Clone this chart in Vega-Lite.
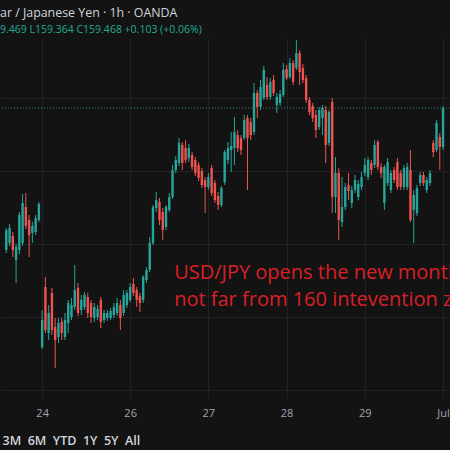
{
  "$schema": "https://vega.github.io/schema/vega-lite/v6.json",
  "width": 450,
  "height": 360,
  "autosize": {"type": "none"},
  "padding": {"top": 38, "left": 0, "right": 0, "bottom": 52},
  "background": "#131313",
  "config": {"view": {"stroke": null}, "font": "Open Sans"},
  "title": {
    "text": "ar / Japanese Yen · 1h · OANDA",
    "subtitle": "9.469 L159.364 C159.468 +0.103 (+0.06%)",
    "anchor": "start",
    "frame": "group",
    "color": "#d1d4dc",
    "subtitleColor": "#22ab94",
    "fontSize": 12.4,
    "subtitleFontSize": 10.5,
    "fontWeight": 500,
    "font": "Open Sans",
    "subtitleFont": "Open Sans",
    "offset": 3,
    "subtitlePadding": 5
  },
  "datasets": {
    "candles": [
      {"bar": -11, "open": 158.758, "close": 158.858, "high": 158.868, "low": 158.743},
      {"bar": -10, "open": 158.793, "close": 158.868, "high": 158.888, "low": 158.778},
      {"bar": -9, "open": 158.828, "close": 158.758, "high": 158.848, "low": 158.723},
      {"bar": -8, "open": 158.708, "close": 158.773, "high": 158.788, "low": 158.593},
      {"bar": -7, "open": 158.758, "close": 158.933, "high": 158.948, "low": 158.738},
      {"bar": -6, "open": 158.793, "close": 158.993, "high": 159.038, "low": 158.778},
      {"bar": -5, "open": 158.973, "close": 158.878, "high": 159.043, "low": 158.863},
      {"bar": -4, "open": 158.908, "close": 158.833, "high": 158.933, "low": 158.723},
      {"bar": -3, "open": 158.843, "close": 158.878, "high": 158.898, "low": 158.793},
      {"bar": -2, "open": 158.848, "close": 158.918, "high": 158.933, "low": 158.833},
      {"bar": -1, "open": 158.908, "close": 158.988, "high": 158.998, "low": 158.898},
      {"bar": 0, "open": 158.273, "close": 158.408, "high": 158.458, "low": 158.263},
      {"bar": 1, "open": 158.573, "close": 158.358, "high": 158.623, "low": 158.343},
      {"bar": 2, "open": 158.343, "close": 158.443, "high": 158.483, "low": 158.308},
      {"bar": 3, "open": 158.543, "close": 158.358, "high": 158.568, "low": 158.333},
      {"bar": 4, "open": 158.373, "close": 158.308, "high": 158.418, "low": 158.168},
      {"bar": 5, "open": 158.323, "close": 158.393, "high": 158.418, "low": 158.293},
      {"bar": 6, "open": 158.398, "close": 158.343, "high": 158.418, "low": 158.308},
      {"bar": 7, "open": 158.323, "close": 158.408, "high": 158.443, "low": 158.308},
      {"bar": 8, "open": 158.393, "close": 158.493, "high": 158.508, "low": 158.343},
      {"bar": 9, "open": 158.423, "close": 158.483, "high": 158.518, "low": 158.408},
      {"bar": 10, "open": 158.473, "close": 158.558, "high": 158.683, "low": 158.458},
      {"bar": 11, "open": 158.568, "close": 158.443, "high": 158.593, "low": 158.428},
      {"bar": 12, "open": 158.458, "close": 158.508, "high": 158.533, "low": 158.433},
      {"bar": 13, "open": 158.473, "close": 158.533, "high": 158.548, "low": 158.458},
      {"bar": 14, "open": 158.523, "close": 158.443, "high": 158.543, "low": 158.418},
      {"bar": 15, "open": 158.493, "close": 158.423, "high": 158.508, "low": 158.393},
      {"bar": 16, "open": 158.418, "close": 158.473, "high": 158.493, "low": 158.398},
      {"bar": 17, "open": 158.423, "close": 158.463, "high": 158.483, "low": 158.408},
      {"bar": 18, "open": 158.508, "close": 158.398, "high": 158.523, "low": 158.368},
      {"bar": 19, "open": 158.408, "close": 158.443, "high": 158.458, "low": 158.393},
      {"bar": 20, "open": 158.418, "close": 158.443, "high": 158.458, "low": 158.403},
      {"bar": 21, "open": 158.418, "close": 158.453, "high": 158.468, "low": 158.408},
      {"bar": 22, "open": 158.433, "close": 158.473, "high": 158.493, "low": 158.418},
      {"bar": 23, "open": 158.443, "close": 158.493, "high": 158.518, "low": 158.428},
      {"bar": 24, "open": 158.483, "close": 158.418, "high": 158.508, "low": 158.358},
      {"bar": 25, "open": 158.443, "close": 158.533, "high": 158.558, "low": 158.428},
      {"bar": 26, "open": 158.483, "close": 158.543, "high": 158.558, "low": 158.468},
      {"bar": 27, "open": 158.508, "close": 158.573, "high": 158.593, "low": 158.498},
      {"bar": 28, "open": 158.588, "close": 158.543, "high": 158.618, "low": 158.528},
      {"bar": 29, "open": 158.558, "close": 158.508, "high": 158.573, "low": 158.473},
      {"bar": 30, "open": 158.528, "close": 158.493, "high": 158.543, "low": 158.448},
      {"bar": 31, "open": 158.508, "close": 158.623, "high": 158.633, "low": 158.493},
      {"bar": 32, "open": 158.608, "close": 158.658, "high": 158.673, "low": 158.593},
      {"bar": 33, "open": 158.658, "close": 158.793, "high": 158.823, "low": 158.648},
      {"bar": 34, "open": 158.793, "close": 158.973, "high": 158.983, "low": 158.783},
      {"bar": 35, "open": 158.968, "close": 159.008, "high": 159.048, "low": 158.948},
      {"bar": 36, "open": 158.998, "close": 158.908, "high": 159.018, "low": 158.883},
      {"bar": 37, "open": 158.948, "close": 158.858, "high": 158.968, "low": 158.808},
      {"bar": 38, "open": 158.873, "close": 158.973, "high": 158.983, "low": 158.858},
      {"bar": 39, "open": 158.958, "close": 159.023, "high": 159.043, "low": 158.948},
      {"bar": 40, "open": 159.023, "close": 159.158, "high": 159.183, "low": 159.013},
      {"bar": 41, "open": 159.158, "close": 159.208, "high": 159.228, "low": 159.143},
      {"bar": 42, "open": 159.193, "close": 159.293, "high": 159.318, "low": 159.178},
      {"bar": 43, "open": 159.283, "close": 159.193, "high": 159.298, "low": 159.158},
      {"bar": 44, "open": 159.268, "close": 159.208, "high": 159.308, "low": 159.193},
      {"bar": 45, "open": 159.218, "close": 159.268, "high": 159.288, "low": 159.198},
      {"bar": 46, "open": 159.233, "close": 159.173, "high": 159.248, "low": 159.158},
      {"bar": 47, "open": 159.208, "close": 159.143, "high": 159.223, "low": 159.128},
      {"bar": 48, "open": 159.183, "close": 159.118, "high": 159.198, "low": 159.103},
      {"bar": 49, "open": 159.153, "close": 159.083, "high": 159.168, "low": 159.068},
      {"bar": 50, "open": 159.108, "close": 159.073, "high": 159.123, "low": 158.943},
      {"bar": 51, "open": 159.073, "close": 159.123, "high": 159.143, "low": 159.058},
      {"bar": 52, "open": 159.168, "close": 159.043, "high": 159.183, "low": 159.028},
      {"bar": 53, "open": 159.093, "close": 159.008, "high": 159.108, "low": 158.993},
      {"bar": 54, "open": 159.028, "close": 158.983, "high": 159.048, "low": 158.958},
      {"bar": 55, "open": 158.983, "close": 159.068, "high": 159.078, "low": 158.973},
      {"bar": 56, "open": 159.098, "close": 159.248, "high": 159.258, "low": 159.083},
      {"bar": 57, "open": 159.208, "close": 159.268, "high": 159.298, "low": 159.188},
      {"bar": 58, "open": 159.258, "close": 159.278, "high": 159.348, "low": 159.148},
      {"bar": 59, "open": 159.268, "close": 159.348, "high": 159.423, "low": 159.183},
      {"bar": 60, "open": 159.333, "close": 159.268, "high": 159.358, "low": 159.248},
      {"bar": 61, "open": 159.318, "close": 159.258, "high": 159.333, "low": 159.233},
      {"bar": 62, "open": 159.318, "close": 159.408, "high": 159.433, "low": 159.308},
      {"bar": 63, "open": 159.418, "close": 159.318, "high": 159.433, "low": 159.058},
      {"bar": 64, "open": 159.398, "close": 159.333, "high": 159.418, "low": 159.308},
      {"bar": 65, "open": 159.348, "close": 159.543, "high": 159.593, "low": 159.333},
      {"bar": 66, "open": 159.543, "close": 159.473, "high": 159.558, "low": 159.418},
      {"bar": 67, "open": 159.473, "close": 159.573, "high": 159.608, "low": 159.458},
      {"bar": 68, "open": 159.518, "close": 159.658, "high": 159.678, "low": 159.508},
      {"bar": 69, "open": 159.583, "close": 159.523, "high": 159.623, "low": 159.508},
      {"bar": 70, "open": 159.523, "close": 159.598, "high": 159.618, "low": 159.508},
      {"bar": 71, "open": 159.608, "close": 159.543, "high": 159.633, "low": 159.528},
      {"bar": 72, "open": 159.483, "close": 159.523, "high": 159.543, "low": 159.443},
      {"bar": 73, "open": 159.493, "close": 159.538, "high": 159.558, "low": 159.478},
      {"bar": 74, "open": 159.533, "close": 159.658, "high": 159.693, "low": 159.523},
      {"bar": 75, "open": 159.663, "close": 159.618, "high": 159.683, "low": 159.608},
      {"bar": 76, "open": 159.623, "close": 159.693, "high": 159.718, "low": 159.613},
      {"bar": 77, "open": 159.693, "close": 159.598, "high": 159.708, "low": 159.583},
      {"bar": 78, "open": 159.668, "close": 159.743, "high": 159.808, "low": 159.658},
      {"bar": 79, "open": 159.743, "close": 159.648, "high": 159.758, "low": 159.583},
      {"bar": 80, "open": 159.668, "close": 159.608, "high": 159.688, "low": 159.593},
      {"bar": 81, "open": 159.618, "close": 159.508, "high": 159.633, "low": 159.493},
      {"bar": 82, "open": 159.508, "close": 159.448, "high": 159.523, "low": 159.433},
      {"bar": 83, "open": 159.478, "close": 159.418, "high": 159.493, "low": 159.398},
      {"bar": 84, "open": 159.433, "close": 159.358, "high": 159.458, "low": 159.318},
      {"bar": 85, "open": 159.373, "close": 159.458, "high": 159.473, "low": 159.358},
      {"bar": 86, "open": 159.418, "close": 159.468, "high": 159.483, "low": 159.333},
      {"bar": 87, "open": 159.458, "close": 159.283, "high": 159.478, "low": 159.193},
      {"bar": 88, "open": 159.293, "close": 159.448, "high": 159.458, "low": 159.278},
      {"bar": 89, "open": 159.498, "close": 159.023, "high": 159.518, "low": 158.943},
      {"bar": 90, "open": 159.023, "close": 159.143, "high": 159.223, "low": 158.943},
      {"bar": 91, "open": 159.143, "close": 158.908, "high": 159.168, "low": 158.808},
      {"bar": 92, "open": 158.898, "close": 158.973, "high": 159.123, "low": 158.873},
      {"bar": 93, "open": 158.973, "close": 159.073, "high": 159.093, "low": 158.958},
      {"bar": 94, "open": 159.083, "close": 159.053, "high": 159.143, "low": 159.008},
      {"bar": 95, "open": 158.993, "close": 159.058, "high": 159.078, "low": 158.968},
      {"bar": 96, "open": 159.058, "close": 159.108, "high": 159.133, "low": 159.043},
      {"bar": 97, "open": 159.023, "close": 159.088, "high": 159.108, "low": 159.008},
      {"bar": 98, "open": 159.073, "close": 159.123, "high": 159.148, "low": 159.058},
      {"bar": 99, "open": 159.143, "close": 159.183, "high": 159.218, "low": 159.128},
      {"bar": 100, "open": 159.123, "close": 159.208, "high": 159.223, "low": 159.108},
      {"bar": 101, "open": 159.193, "close": 159.158, "high": 159.208, "low": 159.133},
      {"bar": 102, "open": 159.183, "close": 159.283, "high": 159.308, "low": 159.168},
      {"bar": 103, "open": 159.298, "close": 159.173, "high": 159.308, "low": 159.158},
      {"bar": 104, "open": 159.173, "close": 159.143, "high": 159.193, "low": 159.118},
      {"bar": 105, "open": 158.993, "close": 159.173, "high": 159.183, "low": 158.958},
      {"bar": 106, "open": 159.093, "close": 159.198, "high": 159.218, "low": 159.078},
      {"bar": 107, "open": 159.058, "close": 159.143, "high": 159.158, "low": 159.043},
      {"bar": 108, "open": 159.158, "close": 159.108, "high": 159.173, "low": 159.093},
      {"bar": 109, "open": 159.198, "close": 159.073, "high": 159.218, "low": 159.058},
      {"bar": 110, "open": 159.143, "close": 159.073, "high": 159.158, "low": 159.058},
      {"bar": 111, "open": 159.073, "close": 159.168, "high": 159.183, "low": 159.058},
      {"bar": 112, "open": 159.073, "close": 159.173, "high": 159.193, "low": 159.058},
      {"bar": 113, "open": 159.158, "close": 158.908, "high": 159.258, "low": 158.898},
      {"bar": 114, "open": 158.958, "close": 159.033, "high": 159.058, "low": 158.793},
      {"bar": 115, "open": 158.943, "close": 159.068, "high": 159.083, "low": 158.928},
      {"bar": 116, "open": 159.093, "close": 159.133, "high": 159.148, "low": 159.078},
      {"bar": 117, "open": 159.133, "close": 159.093, "high": 159.148, "low": 159.078},
      {"bar": 118, "open": 159.058, "close": 159.108, "high": 159.123, "low": 159.043},
      {"bar": 119, "open": 159.093, "close": 159.143, "high": 159.158, "low": 159.078},
      {"bar": 120, "open": 159.293, "close": 159.248, "high": 159.308, "low": 159.223},
      {"bar": 121, "open": 159.258, "close": 159.393, "high": 159.408, "low": 159.248},
      {"bar": 122, "open": 159.323, "close": 159.273, "high": 159.343, "low": 159.158},
      {"bar": 123, "open": 159.273, "close": 159.468, "high": 159.478, "low": 159.258}
    ],
    "notes": [
      {"bar": 40.5, "price": 158.643, "label": "USD/JPY opens the new month"},
      {"bar": 40.5, "price": 158.508, "label": "not far from 160 intevention zone"}
    ],
    "last": [{"price": 159.468}]
  },
  "layer": [
    {
      "data": {"name": "last"},
      "mark": {"type": "rule", "color": "#3d7c72", "strokeDash": [1, 2], "strokeWidth": 1},
      "encoding": {
        "y": {
          "field": "price",
          "type": "quantitative",
          "scale": {"domain": [158.018, 159.818], "nice": false, "zero": false},
          "axis": {
            "values": [158.056, 158.239, 158.422, 158.605, 158.788, 158.971, 159.154, 159.337, 159.52, 159.703],
            "labels": false, "ticks": false, "domain": false, "title": null,
            "grid": true, "gridColor": "#222222", "gridWidth": 1
          }
        }
      }
    },
    {
      "data": {"name": "candles"},
      "mark": {"type": "rule", "strokeWidth": 1},
      "encoding": {
        "x": {
          "field": "bar",
          "type": "quantitative",
          "scale": {"domain": [-11.4, 123.6], "nice": false, "zero": false},
          "axis": {
            "values": [0, 27, 51, 75, 99, 123],
            "labelExpr": "datum.value == 0 ? '24' : datum.value == 27 ? '26' : datum.value == 51 ? '27' : datum.value == 75 ? '28' : datum.value == 99 ? '29' : 'Jul'",
            "domain": false, "ticks": false,
            "grid": true, "gridColor": "#222222", "gridWidth": 1,
            "labelColor": "#a3a6af", "labelFontSize": 11, "labelPadding": 9, "labelFont": "Open Sans",
            "title": "3M\u00a0 6M\u00a0 YTD\u00a0 1Y\u00a0 5Y\u00a0 All",
            "titleColor": "#d1d4dc", "titleFontSize": 12.5, "titleFontWeight": 600, "titleFont": "Open Sans",
            "titleAnchor": "start", "titleAlign": "left", "titleX": 2, "titleY": 42, "titleBaseline": "middle"
          }
        },
        "y": {"field": "low", "type": "quantitative"},
        "y2": {"field": "high"},
        "color": {"condition": {"test": "datum.close >= datum.open", "value": "#26a69a"}, "value": "#ef5350"}
      }
    },
    {
      "data": {"name": "candles"},
      "mark": {"type": "bar", "width": 2.4},
      "encoding": {
        "x": {"field": "bar", "type": "quantitative"},
        "y": {"field": "open", "type": "quantitative"},
        "y2": {"field": "close"},
        "color": {"condition": {"test": "datum.close >= datum.open", "value": "#26a69a"}, "value": "#ef5350"}
      }
    },
    {
      "data": {"name": "notes"},
      "mark": {"type": "text", "align": "left", "baseline": "middle", "fontSize": 20, "font": "Open Sans", "color": "#dc1f26"},
      "encoding": {
        "x": {"field": "bar", "type": "quantitative"},
        "y": {"field": "price", "type": "quantitative"},
        "text": {"field": "label"}
      }
    }
  ]
}
